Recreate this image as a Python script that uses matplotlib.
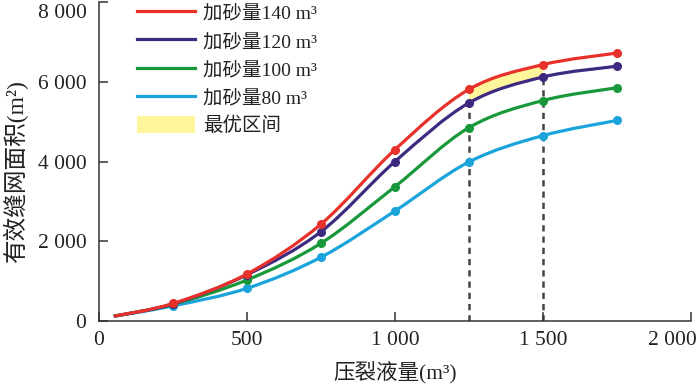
import numpy as np
import matplotlib
matplotlib.use('Agg')
import matplotlib.pyplot as plt
import matplotlib.transforms as mtransforms
from matplotlib.path import Path
from matplotlib.patches import PathPatch, Patch
from matplotlib.lines import Line2D
from matplotlib.ticker import FuncFormatter

plt.rcParams['font.family'] = ['Liberation Serif', 'Noto Sans CJK SC']

# fracturing fluid volume (m3)
fluid = [50, 250, 500, 750, 1000, 1250, 1500, 1750]

# effective fracture network area (m2) for each sand volume
sand140 = [120, 440, 1180, 2430, 4300, 5810, 6430, 6720]
sand120 = [120, 430, 1160, 2240, 4000, 5470, 6120, 6390]
sand100 = [120, 420, 1030, 1950, 3370, 4850, 5530, 5850]
sand80 = [120, 380, 820, 1600, 2760, 3990, 4650, 5030]

labels = ['加砂量140 m³', '加砂量120 m³', '加砂量100 m³', '加砂量80 m³']
colors = ['#e8312a', '#3d2a80', '#17983a', '#1ba3dc']

# optimal range (between the two dashed lines)
best_lo, best_hi = 1250, 1500


def smooth_codes(xs, ys):
    # bezier control points like a "smoothed line" chart, passes through every point
    xs = np.asarray(xs, float)
    ys = np.asarray(ys, float)
    verts = [(xs[0], ys[0])]
    for i in range(len(xs) - 1):
        x0, y0 = xs[max(i - 1, 0)], ys[max(i - 1, 0)]
        x1, y1 = xs[i], ys[i]
        x2, y2 = xs[i + 1], ys[i + 1]
        x3, y3 = xs[min(i + 2, len(xs) - 1)], ys[min(i + 2, len(xs) - 1)]
        verts.append((x1 + (x2 - x0) / 6, y1 + (y2 - y0) / 6))
        verts.append((x2 - (x3 - x1) / 6, y2 - (y3 - y1) / 6))
        verts.append((x2, y2))
    codes = [Path.MOVETO] + [Path.CURVE4] * (len(verts) - 1)
    return verts, codes


fig = plt.figure(figsize=(7, 3.87), dpi=100)
ax = fig.add_axes([0.1414, 0.1705, 0.8457, 0.8243])

series = [sand140, sand120, sand100, sand80]

# yellow band between the 140 and 120 curves inside the optimal range
i0, i1 = fluid.index(best_lo), fluid.index(best_hi)
vt, ct = smooth_codes(fluid, sand140)
vb, cb = smooth_codes(fluid, sand120)
top = vt[3 * i0:3 * i1 + 1]
bot = vb[3 * i0:3 * i1 + 1][::-1]
band_verts = top + bot + [top[0]]
band_codes = ([Path.MOVETO] + [Path.CURVE4] * (len(top) - 1) + [Path.LINETO]
              + [Path.CURVE4] * (len(bot) - 1) + [Path.CLOSEPOLY])
ax.add_patch(PathPatch(Path(band_verts, band_codes), facecolor='#fff59a',
                       edgecolor='none', zorder=1))

# dashed guides
for xv in [best_lo, best_hi]:
    ax.plot([xv, xv], [0, sand120[fluid.index(xv)]], color='#444444', lw=1.8,
            ls=(0, (2.5, 2)), zorder=1.5)

for k in range(len(series) - 1, -1, -1):
    v, c = smooth_codes(fluid, series[k])
    ax.add_patch(PathPatch(Path(v, c), facecolor='none', edgecolor=colors[k],
                           lw=2.3, zorder=2 + (3 - k)))
    ax.plot(fluid[1:], series[k][1:], 'o', color=colors[k], ms=5.5, zorder=2 + (3 - k))

ax.set_xlim(0, 2000)
ax.set_ylim(0, 8000)
ax.set_xticks([0, 500, 1000, 1500, 2000])
ax.set_yticks([0, 2000, 4000, 6000, 8000])
fmt = FuncFormatter(lambda v, p: f'{int(v):,}'.replace(',', ' '))
ax.xaxis.set_major_formatter(fmt)
ax.yaxis.set_major_formatter(fmt)

for s in ['top', 'right']:
    ax.spines[s].set_visible(False)
for s in ['left', 'bottom']:
    ax.spines[s].set_color('#333333')
    ax.spines[s].set_linewidth(1.1)
ax.tick_params(direction='in', length=6.5, width=1.1, color='#333333',
               labelsize=15.5, labelcolor='#222222')
ax.tick_params(axis='x', pad=7)
ax.tick_params(axis='y', pad=9)

# keep the end labels inside the picture
last_x = ax.xaxis.get_major_ticks()[-1].label1
last_x.set_transform(last_x.get_transform()
                     + mtransforms.ScaledTranslation(-0.19, 0, fig.dpi_scale_trans))
last_y = ax.yaxis.get_major_ticks()[-1].label1
last_y.set_transform(last_y.get_transform()
                     + mtransforms.ScaledTranslation(0, -0.09, fig.dpi_scale_trans))

ax.set_xlabel('压裂液量(m³)', fontsize=15.5, color='#222222', labelpad=8)
ax.set_ylabel('有效缝网面积(m²)', fontsize=17, color='#222222', labelpad=4)
ax.yaxis.set_label_coords(-0.12, 0.47)

handles = [Line2D([], [], color=c, lw=2.3) for c in colors]
handles.append(Patch(facecolor='#fff59a', edgecolor='none'))
leg = ax.legend(handles, labels + ['最优区间'], loc='upper left',
                bbox_to_anchor=(0.064, 0.995), frameon=False, fontsize=14,
                borderpad=0, borderaxespad=0, handlelength=3.0,
                handletextpad=0.4, handleheight=1.0, labelspacing=0.45)
for t in leg.get_texts():
    t.set_color('#222222')

fig.savefig('out.png', dpi=100)
